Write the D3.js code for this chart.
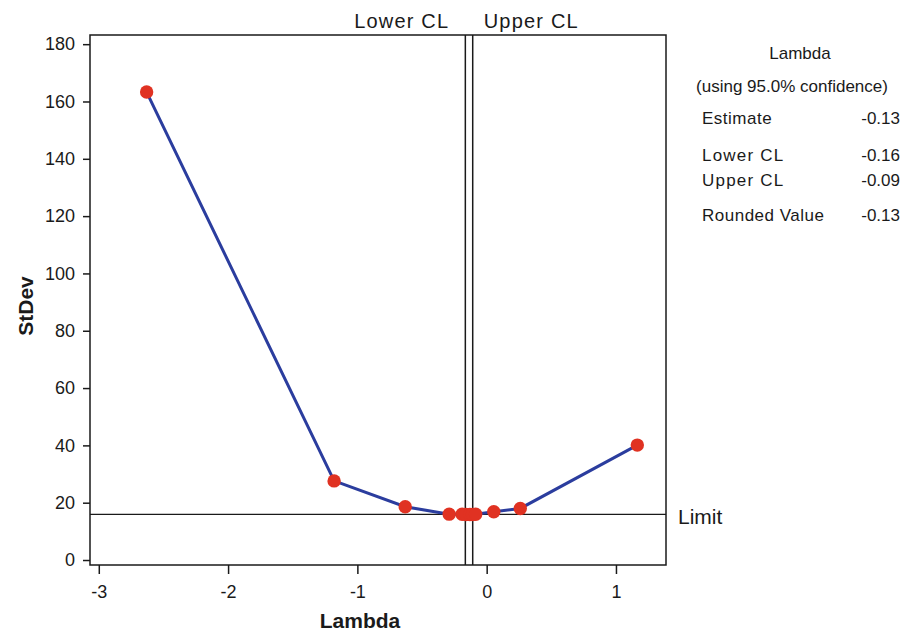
<!DOCTYPE html>
<html lang="en">
<head>
  <meta charset="UTF-8">
  <title>Box-Cox Plot</title>
  <style>
    body { margin: 0; background: #fff; }
    text { font-family: "Liberation Sans", Arial, sans-serif; fill: #1a1a1a; }
  </style>
</head>
<body>
  <svg id="mainsvg" width="913" height="632"></svg>
  <script src="https://cdn.jsdelivr.net/npm/d3@7/dist/d3.min.js"></script>
  <script>
    // lambda values and the StDev
    const lambdas = [-2.63, -1.18, -0.63, -0.29, -0.19, -0.16, -0.13, -0.11, -0.085, 0.055, 0.26, 1.165]
    const stdevs = [163.3, 27.6, 18.6, 16.0, 15.95, 15.9, 15.9, 15.9, 15.95, 16.85, 18.0, 40.1]
    const xTicks = [-3, -2, -1, 0, 1]
    const yTicks = [0, 20, 40, 60, 80, 100, 120, 140, 160, 180]
    const limitValue = 15.9
    const clLines = [-0.165, -0.108] // where the two CL lines sit
    const clLabels = ['Lower CL', 'Upper CL']
    const panelRows = ['Estimate', 'Lower CL', 'Upper CL', 'Rounded Value']
    const panelValues = ['-0.13', '-0.16', '-0.09', '-0.13']

    const svg = d3.select('#mainsvg')
    const margin = { top: 35, right: 247, bottom: 67, left: 90 }
    const width = +svg.attr('width')
    const height = +svg.attr('height')
    const innerWidth = width - margin.left - margin.right
    const innerHeight = height - margin.top - margin.bottom

    const xScale = d3.scaleLinear().domain([-3.068, 1.387]).range([0, innerWidth])
    const yScale = d3.scaleLinear().domain([-1.74, 183.2]).range([innerHeight, 0])

    const g = svg.append('g')
      .attr('transform', `translate(${margin.left}, ${margin.top})`)

    // axes
    const xAxis = d3.axisBottom(xScale).tickValues(xTicks).tickFormat(d => String(d))
      .tickSize(9).tickPadding(11)
    const yAxis = d3.axisLeft(yScale).tickValues(yTicks).tickFormat(d => String(d))
      .tickSize(7).tickPadding(8)

    const gx = g.append('g').attr('transform', `translate(0, ${innerHeight})`).call(xAxis)
    const gy = g.append('g').call(yAxis)
    ;[gx, gy].forEach(a => {
      a.select('.domain').remove()
      a.selectAll('.tick line').attr('stroke', '#1a1a1a').attr('stroke-width', 1.5)
      a.selectAll('.tick text').attr('font-size', 18).attr('fill', '#1a1a1a')
        .attr('font-family', '"Liberation Sans", Arial, sans-serif')
    })

    // frame
    g.append('rect')
      .attr('width', innerWidth).attr('height', innerHeight)
      .attr('fill', 'none').attr('stroke', '#1a1a1a').attr('stroke-width', 1.5)

    // limit line
    g.append('line')
      .attr('x1', 0).attr('x2', innerWidth)
      .attr('y1', yScale(limitValue)).attr('y2', yScale(limitValue))
      .attr('stroke', '#1a1a1a').attr('stroke-width', 1.3)
    g.append('text').text('Limit')
      .attr('x', innerWidth + 12).attr('y', yScale(limitValue) + 10)
      .attr('font-size', 21)

    // confidence limit lines
    clLines.forEach((v, i) => {
      g.append('line')
        .attr('x1', xScale(v)).attr('x2', xScale(v))
        .attr('y1', 0).attr('y2', innerHeight)
        .attr('stroke', '#1a1a1a').attr('stroke-width', 1.5)
      g.append('text').text(clLabels[i])
        .attr('x', i === 0 ? xScale(v) - 16 : xScale(v) + 11)
        .attr('y', -7)
        .attr('text-anchor', i === 0 ? 'end' : 'start')
        .attr('font-size', 20)
        .attr('letter-spacing', 1.2)
    })

    // curve
    const pts = lambdas.map((l, i) => [l, stdevs[i]])
    g.append('path')
      .datum(pts)
      .attr('fill', 'none')
      .attr('stroke', '#2b3d9e')
      .attr('stroke-width', 3)
      .attr('d', d3.line().x(d => xScale(d[0])).y(d => yScale(d[1])))

    g.selectAll('.dot').data(pts).join('circle')
      .attr('class', 'dot')
      .attr('cx', d => xScale(d[0]))
      .attr('cy', d => yScale(d[1]))
      .attr('r', 6.7)
      .attr('fill', '#e03222')

    // axis titles
    svg.append('text').text('Lambda')
      .attr('x', 360).attr('y', 628)
      .attr('text-anchor', 'middle')
      .attr('font-size', 21).attr('font-weight', 'bold')
    svg.append('text').text('StDev')
      .attr('transform', 'translate(33, 306) rotate(-90)')
      .attr('text-anchor', 'middle')
      .attr('font-size', 21).attr('font-weight', 'bold')

    // side panel
    const panel = svg.append('g')
    panel.append('text').text('Lambda')
      .attr('x', 800).attr('y', 59).attr('text-anchor', 'middle').attr('font-size', 17)
    panel.append('text').text('(using 95.0% confidence)')
      .attr('x', 792).attr('y', 92).attr('text-anchor', 'middle').attr('font-size', 17)
    const rowY = [124, 161, 186, 221]
    panelRows.forEach((r, i) => {
      panel.append('text').text(r)
        .attr('x', 702).attr('y', rowY[i]).attr('font-size', 17)
        .attr('letter-spacing', r.includes('CL') ? 1.2 : 0.5)
      panel.append('text').text(panelValues[i])
        .attr('x', 900).attr('y', rowY[i]).attr('font-size', 17)
        .attr('text-anchor', 'end')
    })
  </script>
</body>
</html>
